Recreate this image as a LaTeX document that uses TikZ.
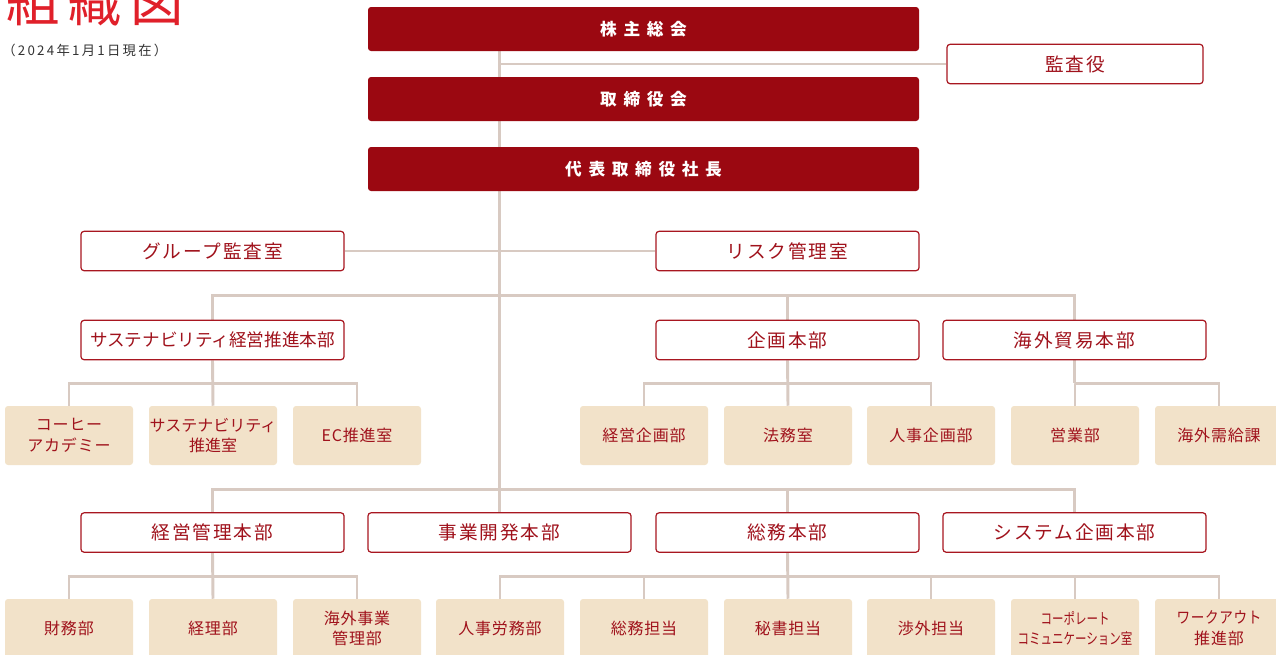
\documentclass[tikz,border=0pt]{standalone}
\usepackage{fontspec}
\usepackage{graphicx}
\setmainfont{Noto Sans CJK JP}
\newfontfamily\jpls{Noto Sans CJK JP}[LetterSpace=10]
\newfontfamily\jpbl{Noto Sans CJK JP}[LetterSpace=5]
\newfontfamily\jpsub{Noto Sans CJK JP}[LetterSpace=17]
\newfontfamily\jpwide{Noto Sans CJK JP}[LetterSpace=40]
\usetikzlibrary{backgrounds,calc}
\definecolor{dred}{RGB}{155,8,17}
\definecolor{bred}{RGB}{168,22,32}
\definecolor{tred}{RGB}{160,18,28}
\definecolor{beige}{RGB}{242,226,201}
\definecolor{lineC}{RGB}{216,202,194}
\definecolor{titleC}{RGB}{224,32,42}
\tikzset{
  redbox/.style={fill=dred, rounded corners=2.25pt, text=white, minimum width=413.25pt, minimum height=33pt, inner sep=0pt, font=\jpwide\bfseries\fontsize{12.5}{14}\selectfont},
  obox/.style={draw=bred, line width=0.9pt, fill=white, rounded corners=2.25pt, text=tred, minimum width=197.25pt, minimum height=29.5pt, inner sep=0pt, font=\jpls\fontsize{14}{16}\selectfont},
  bbox/.style={fill=beige, rounded corners=2.25pt, text=tred, minimum width=96pt, minimum height=44.25pt, inner sep=0pt, align=center, font=\jpbl\fontsize{12}{15.5}\selectfont},
  conn/.style={draw=lineC, line width=2.2pt}
}
\begin{document}
\begin{tikzpicture}[x=0.75pt,y=-0.75pt]
\useasboundingbox (0,0) rectangle (1276,654);
\clip (0,0) rectangle (1276,654);
% title
\node[anchor=base west, inner sep=0pt, text=titleC, font=\fontsize{40}{44}\selectfont] (title) at (6,21) {組\,織\,図};
\node[anchor=base west, inner sep=0pt, text=black!80, font=\jpsub\fontsize{10}{12}\selectfont] (date) at (2,55) {（2024年1月1日現在）};
% top red boxes
\node[redbox] (gm) at (643.5,29) {株主総会};
\node[redbox] (bd) at (643.5,99) {取締役会};
\node[redbox] (ceo) at (643.5,169) {代表取締役社長};
\node[obox, minimum width=192pt] (audit) at (1075,64) {監査役};
% staff
\node[obox] (grp) at (212.5,251) {グループ監査室};
\node[obox] (risk) at (787.5,251) {リスク管理室};
% level 2
\node[obox, font=\fontsize{13.2}{15}\selectfont] (sus) at (212.5,340) {サステナビリティ経営推進本部};
\node[obox] (plan) at (787.5,340) {企画本部};
\node[obox] (trade) at (1074.5,340) {海外貿易本部};
% level 2 children
\node[bbox] (a1) at (69,435.5) {コーヒー\\アカデミー};
\node[bbox, font=\fontsize{12}{15.5}\selectfont] (a2) at (213,435.5) {サステナビリティ\\推進室};
\node[bbox] (a3) at (357,435.5) {EC推進室};
\node[bbox] (p1) at (644,435.5) {経営企画部};
\node[bbox] (p2) at (788,435.5) {法務室};
\node[bbox] (p3) at (931,435.5) {人事企画部};
\node[bbox] (o1) at (1075,435.5) {営業部};
\node[bbox] (o2) at (1219,435.5) {海外需給課};
% level 3
\node[obox] (mgmt) at (212.5,532.5) {経営管理本部};
\node[obox] (dev) at (499.5,532.5) {事業開発本部};
\node[obox] (gen) at (787.5,532.5) {総務本部};
\node[obox] (sys) at (1074.5,532.5) {システム企画本部};
% level 3 children
\node[bbox] (m1) at (69,628.5) {財務部};
\node[bbox] (m2) at (213,628.5) {経理部};
\node[bbox] (m3) at (357,628.5) {海外事業\\管理部};
\node[bbox] (g1) at (500,628.5) {人事労務部};
\node[bbox] (g2) at (644,628.5) {総務担当};
\node[bbox] (g3) at (788,628.5) {秘書担当};
\node[bbox] (g4) at (931,628.5) {渉外担当};
\node[bbox, font=\fontsize{11.5}{15.5}\selectfont] (g5) at (1075,628.5) {\scalebox{0.75}[1]{コーポレート}\\\scalebox{0.75}[1]{コミュニケーション室}};
\node[bbox] (g6) at (1219,628.5) {\scalebox{0.85}[1]{ワークアウト}\\推進部};
% connectors
\begin{pgfonlayer}{background}
\coordinate (j1) at ($(sus.north)+(0,-24)$);
\coordinate (j2) at ($(mgmt.north)+(0,-23)$);
\draw[conn] (gm.south -| dev) -- (dev.north);
\draw[conn] (audit.west) -- (audit.west -| dev);
\draw[conn] (grp.east) -- (risk.west);
\draw[conn] (sus.north) |- (j1) -| (trade.north);
\draw[conn] (j1 -| plan) -- (plan.north);
\draw[conn] (a1.north) |- ($(sus.south)+(0,23)$) -| (a3.north);
\draw[conn] (sus.south) -- (a2.north);
\draw[conn] (p1.north) |- ($(plan.south)+(0,23)$) -| (p3.north);
\draw[conn] (plan.south) -- (p2.north);
\draw[conn] (o1.north) |- ($(trade.south)+(0,23)$) -| (o2.north);
\draw[conn] (trade.south) -- ($(trade.south)+(0,23)$);
\draw[conn] (mgmt.north) |- (j2) -| (sys.north);
\draw[conn] (j2 -| gen) -- (gen.north);
\draw[conn] (m1.north) |- ($(mgmt.south)+(0,24)$) -| (m3.north);
\draw[conn] (mgmt.south) -- (m2.north);
\draw[conn] (g1.north) |- ($(gen.south)+(0,24)$) -| (g6.north);
\draw[conn] (gen.south) -- (g3.north);
\draw[conn] (g2.north) -- ++(0,-23);
\draw[conn] (g4.north) -- ++(0,-23);
\draw[conn] (g5.north) -- ++(0,-23);
\end{pgfonlayer}
\end{tikzpicture}
\end{document}
